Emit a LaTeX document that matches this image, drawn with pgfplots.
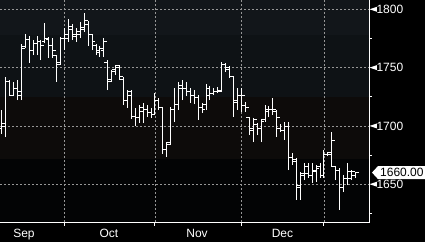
\documentclass[border=0pt]{standalone}
\usepackage{pgfplots}
\pgfplotsset{compat=1.18}
\usepackage{pgfplotstable}
\usepackage{fontspec}
\setmainfont{Liberation Sans}
\definecolor{bandA}{RGB}{18,22,26}
\definecolor{bandB}{RGB}{14,18,21}
\definecolor{bandC}{RGB}{13,11,10}
\definecolor{bandD}{RGB}{3,4,5}
\definecolor{gridc}{RGB}{150,150,150}

\pgfplotstableread{
i O H L C
0 1698.2 1713.7 1693.1 1701.7
1 1699.9 1742.0 1690.5 1737.7
2 1737.7 1739.4 1725.7 1726.5
3 1726.5 1737.7 1725.7 1732.5
4 1732.5 1739.4 1722.2 1729.1
5 1726.5 1770.3 1722.2 1766.8
6 1767.7 1778.8 1766.8 1773.7
7 1773.7 1777.1 1754.0 1765.1
8 1765.1 1773.7 1760.8 1771.1
9 1770.3 1777.1 1760.8 1772.8
10 1772.0 1773.7 1756.5 1769.4
11 1772.8 1788.3 1771.1 1775.4
12 1773.7 1776.3 1758.3 1769.4
13 1769.4 1775.4 1758.3 1765.1
14 1760.8 1760.8 1737.7 1753.1
15 1754.0 1776.3 1752.3 1775.4
16 1775.4 1784.0 1765.1 1778.0
17 1775.4 1791.7 1772.0 1785.7
18 1782.3 1787.4 1773.7 1778.0
19 1777.1 1784.0 1772.0 1780.6
20 1778.8 1789.1 1775.4 1782.3
21 1784.0 1796.9 1780.6 1790.0
22 1786.6 1790.0 1768.6 1778.8
23 1778.0 1778.8 1765.1 1772.0
24 1769.4 1770.3 1760.8 1765.1
25 1763.4 1768.6 1759.1 1766.8
26 1765.1 1775.4 1759.1 1772.0
27 1754.8 1756.5 1730.8 1737.7
28 1739.4 1748.0 1737.7 1746.3
29 1748.0 1752.3 1743.7 1750.5
30 1751.4 1751.4 1739.4 1742.0
31 1739.4 1742.0 1718.0 1722.2
32 1722.2 1730.8 1715.4 1726.5
33 1729.1 1730.8 1706.0 1707.7
34 1707.7 1715.4 1699.9 1706.8
35 1706.8 1718.0 1702.5 1715.4
36 1712.0 1719.7 1702.5 1713.7
37 1713.7 1718.0 1707.7 1711.1
38 1711.1 1715.4 1706.8 1709.4
39 1709.4 1728.2 1709.4 1722.2
40 1722.2 1724.0 1713.7 1715.4
41 1715.4 1716.2 1675.9 1679.4
42 1679.4 1686.2 1673.4 1684.5
43 1686.2 1716.2 1683.6 1713.7
44 1713.7 1732.5 1703.4 1718.0
45 1718.0 1737.7 1713.7 1735.1
46 1732.5 1739.4 1722.2 1732.5
47 1732.5 1737.7 1725.7 1729.1
48 1729.1 1732.5 1719.7 1726.5
49 1725.7 1730.8 1718.8 1724.8
50 1724.0 1726.5 1705.1 1715.4
51 1715.4 1719.7 1711.1 1713.7
52 1718.0 1736.0 1713.7 1732.5
53 1726.5 1734.2 1722.2 1728.2
54 1728.2 1732.5 1726.5 1729.1
55 1729.1 1733.4 1728.2 1730.0
56 1729.1 1754.8 1729.1 1753.1
57 1753.1 1754.0 1746.3 1749.7
58 1748.0 1751.4 1741.1 1742.8
59 1742.8 1742.8 1707.7 1719.7
60 1722.2 1732.5 1713.7 1726.5
61 1726.5 1732.5 1712.0 1725.7
62 1717.1 1720.5 1712.0 1715.4
63 1706.8 1707.7 1692.2 1696.5
64 1698.2 1706.8 1686.2 1705.1
65 1700.8 1702.5 1692.2 1697.4
66 1698.2 1706.0 1686.2 1704.2
67 1705.1 1718.0 1703.4 1713.7
68 1712.0 1717.1 1707.7 1714.5
69 1713.7 1724.0 1709.4 1713.7
70 1712.0 1713.7 1690.5 1706.8
71 1698.2 1701.7 1694.8 1696.5
72 1696.5 1703.4 1688.0 1699.9
73 1699.9 1703.4 1662.2 1672.5
74 1672.5 1676.8 1666.5 1669.1
75 1670.8 1672.5 1636.5 1648.5
76 1646.8 1660.5 1636.5 1658.8
77 1657.9 1668.2 1653.6 1665.6
78 1658.8 1668.2 1655.3 1657.9
79 1657.9 1668.2 1651.1 1662.2
80 1660.5 1666.5 1651.9 1663.9
81 1665.6 1668.2 1655.3 1657.9
82 1657.9 1679.4 1655.3 1675.1
83 1675.1 1677.6 1674.2 1675.9
84 1676.8 1694.8 1664.8 1687.1
85 1664.8 1665.6 1653.6 1662.2
86 1662.2 1663.9 1627.9 1646.8
87 1646.8 1657.9 1643.3 1655.3
88 1655.3 1668.2 1649.3 1660.5
89 1655.3 1662.2 1653.6 1660.5
90 1657.1 1660.5 1655.3 1660.0
}\ohlc

\begin{document}
\begin{tikzpicture}
\path[use as bounding box] (0,0) rectangle (425pt,242pt);
\fill[black] (0,0) rectangle (425pt,242pt);
% background bands of the plot area (axis spans x 0..369pt, y 20..242pt)
\fill[bandA] (0pt,207pt) rectangle (369pt,242pt);
\fill[bandB] (0pt,145pt) rectangle (369pt,207pt);
\fill[bandC] (0pt,83pt) rectangle (369pt,145pt);
\fill[bandD] (0pt,20pt) rectangle (369pt,83pt);
\begin{axis}[
  at={(0pt,20pt)}, anchor=south west,
  scale only axis, width=369pt, height=222pt,
  xmin=-0.43, xmax=93.46, ymin=1617.6, ymax=1808,
  axis x line*=bottom, axis y line*=right,
  axis line style={draw=none},
  clip=false,
  xtick={16,39,61,82}, xticklabels={},
  extra x ticks={5.67,27.3,49.7,71.45},
  extra x tick labels={Sep,Oct,Nov,Dec},
  extra x tick style={grid=none},
  xmajorgrids, ymajorgrids,
  grid style={draw=gridc, dash pattern=on 2pt off 2pt, line width=0.8pt},
  ytick={1650,1700,1750,1800},
  tick align=outside, major tick length=4pt,
  tick style={draw=none},
  ticklabel style={font=\fontsize{12}{14}\selectfont, text=white},
  /pgf/number format/.cd, 1000 sep={}, assume math mode=true,
]
\addplot[draw=none, mark=none, error bars/.cd, y dir=plus, y explicit, error mark=none,
  error bar style={draw=white, line width=1pt, solid}]
  table[x=i, y=L, y error expr=\thisrow{H}-\thisrow{L}] {\ohlc};
\addplot[draw=none, mark=none, error bars/.cd, x dir=minus, x fixed=0.85, error mark=none,
  error bar style={draw=white, line width=1pt, solid}]
  table[x=i, y=O] {\ohlc};
\addplot[draw=none, mark=none, error bars/.cd, x dir=plus, x fixed=0.85, error mark=none,
  error bar style={draw=white, line width=1pt, solid}]
  table[x=i, y=C] {\ohlc};

\coordinate (t1800) at (axis cs:93.46,1800);
\coordinate (t1750) at (axis cs:93.46,1750);
\coordinate (t1700) at (axis cs:93.46,1700);
\coordinate (t1650) at (axis cs:93.46,1650);
\coordinate (m1775) at (axis cs:93.46,1775);
\coordinate (m1725) at (axis cs:93.46,1725);
\coordinate (m1675) at (axis cs:93.46,1675);
\coordinate (m1625) at (axis cs:93.46,1625);
\coordinate (last) at (axis cs:93.46,1660);
\coordinate (g1) at (axis cs:16,1617.6);
\coordinate (g2) at (axis cs:39,1617.6);
\coordinate (g3) at (axis cs:61,1617.6);
\coordinate (g4) at (axis cs:82,1617.6);
\end{axis}
% axis lines
\draw[white, line width=1pt] (0pt,20pt) -- (369pt,20pt);
\draw[white, line width=1pt] (369pt,19.5pt) -- (369pt,242pt);
% bottom ticks at month boundaries
\foreach \g in {g1,g2,g3,g4} \draw[white, line width=1pt] (\g) -- ++(0,-4pt);
% major y tick pennants
\foreach \t in {t1800,t1750,t1700,t1650}
  \fill[white] (\t) ++(0.5pt,0) -- ++(7.5pt,2.5pt) -- ++(0,-5pt) -- cycle;
% minor y ticks
\foreach \m in {m1775,m1725,m1675,m1625}
  \draw[white, line width=1pt] (\m) -- ++(3.5pt,0);
% last price tag
\fill[white] (last) ++(3pt,0) -- ++(6pt,6.5pt) -- ++(47pt,0) -- ++(0,-13pt) -- ++(-47pt,0) -- cycle;
\node[anchor=west, font=\fontsize{12}{14}\selectfont, text=black, inner sep=0pt, xshift=11pt] at (last) {1660.00};
\end{tikzpicture}
\end{document}
